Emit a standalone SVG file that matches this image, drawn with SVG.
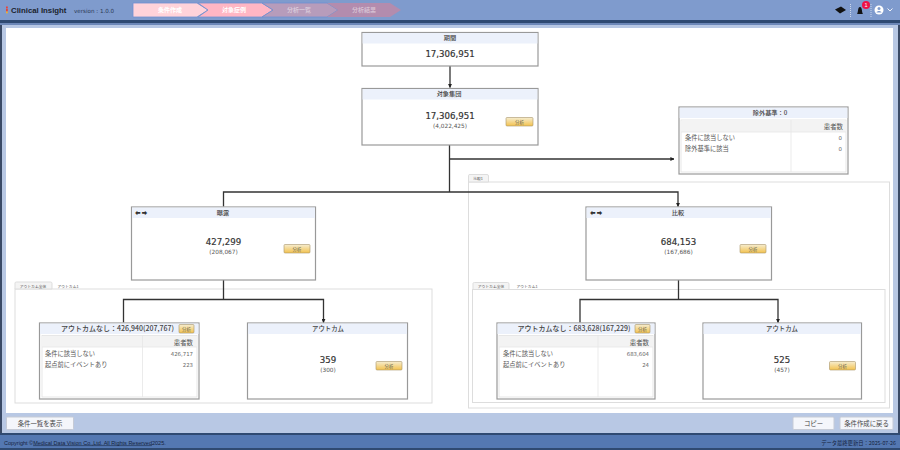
<svg xmlns="http://www.w3.org/2000/svg" width="900" height="450" viewBox="0 0 900 450">
<style>
text{font-family:"Noto Sans CJK JP","Noto Sans",sans-serif;fill:#444}
.num{font-family:"DejaVu Sans",sans-serif;font-size:8.6px;fill:#333;text-anchor:middle;stroke:#333;stroke-width:.2}
.sub{font-family:"DejaVu Sans",sans-serif;font-size:5.800px;fill:#555;text-anchor:middle}
.box{fill:#fff;stroke:#999;stroke-width:1.2}
.hd{fill:#ecf1fb}
.ttl{font-size:6.2px;fill:#444;text-anchor:middle;font-weight:500}
.ttl2{font-size:7px;fill:#444;text-anchor:middle;font-weight:500}
.ttl3{font-size:6.400px;fill:#444;text-anchor:middle;font-weight:500}
.cell{font-size:6.250px;fill:#555}
.val{font-family:"DejaVu Sans",sans-serif;font-size:5.400px;fill:#666;text-anchor:end}
.rh{font-size:6.400px;fill:#555;text-anchor:end}
.btn{fill:url(#gold);stroke:#a89468;stroke-width:.6}
.btxt{font-size:4.400px;fill:#665;text-anchor:middle}
.panel{fill:#fff;stroke:#ddd;stroke-width:1}
.tab{fill:#f4f4f4;stroke:#ddd;stroke-width:1}
.tabt{font-size:3.800px;fill:#555;text-anchor:middle}
.tbl{fill:#fff;stroke:#e2e2e2;stroke-width:.8}
.trh{fill:#f3f3f3}
.sep{stroke:#e6e6e6;stroke-width:.8}
.conn{fill:none;stroke:#333;stroke-width:1.3}
.fbtn{fill:#f4f6fb;stroke:#c6cbd6;stroke-width:1}
.ft{font-size:6.400px;fill:#444;text-anchor:middle}
.st{font-size:6px;fill:#fff;text-anchor:middle;font-weight:700}
.chev{stroke:#6f90d0;stroke-width:.8}
.arr{font-size:5.500px;fill:#333}
</style>
<defs>
<linearGradient id="gold" x1="0" y1="0" x2="0" y2="1"><stop offset="0" stop-color="#f6edd0"/><stop offset="1" stop-color="#f3c24e"/></linearGradient>
<marker id="ah" markerWidth="4" markerHeight="4" refX="3.600" refY="2" orient="auto" markerUnits="userSpaceOnUse"><path d="M0 0L4 2L0 4Z" fill="#222"/></marker>
</defs>

<rect width="900" height="450" fill="#b8c8e4"/>
<rect y="0" width="900" height="20" fill="#7f9bcd"/>
<rect y="20" width="900" height="3" fill="#2f4a72"/>
<rect y="23" width="900" height="2" fill="#6d88b8"/>
<rect y="25" width="2" height="408" fill="#3a4a66"/>
<rect x="898" y="25" width="2" height="408" fill="#3a4a66"/>
<rect x="6" y="28" width="887" height="385" fill="#fff"/>

<g id="header">
<rect x="6" y="6.500" width="1.800" height="2" fill="#e8433a"/><rect x="6" y="9" width="1.800" height="2.500" fill="#e8433a"/><rect x="6" y="11.500" width="1.800" height="1.800" fill="#f0b030"/>
<text x="11" y="13" font-size="7.800" font-weight="700" style="font-family:'Liberation Sans',sans-serif;fill:#1a1f2c">Clinical Insight</text>
<text x="74" y="12.500" font-size="5.600" style="font-family:'DejaVu Sans',sans-serif;fill:#2c3a55">version : 1.0.0</text>
<path class="chev" d="M133 3H197L208 10L197 17H133Z" fill="#ffd3da"/>
<path class="chev" d="M198 3H262L273 10L262 17H198L208 10Z" fill="#ffb6c4"/>
<path class="chev" d="M262 3H327L338 10L327 17H262L273 10Z" fill="#b79cbb"/>
<path d="M327 3H390L401 10L390 17H327L338 10Z" fill="#b38cae"/>
<text class="st" x="170" y="12">条件作成</text>
<text class="st" x="234" y="12">対象症例</text>
<text class="st" x="299" y="12" fill-opacity=".45">分析一覧</text>
<text class="st" x="364" y="12" fill-opacity=".45">分析結果</text>
<path d="M835 9.500L841 6.500L846 10L840 13.500Z" fill="#111"/>
<path d="M850.500 4V17M871 4V17" stroke="#dfe6f4" stroke-width=".8" stroke-dasharray="1 1"/>
<path d="M857 14C858.500 12 857.500 7 860 7C862.500 7 861.500 12 863 14Z" fill="#111"/>
<circle cx="866" cy="5" r="4" fill="#ee1148"/>
<text x="866" y="7" font-size="5.500" text-anchor="middle" style="fill:#fff;font-family:'Liberation Sans',sans-serif">1</text>
<circle cx="879" cy="10" r="4.500" fill="#fff"/><circle cx="879" cy="8.500" r="1.500" fill="#7f9bcd"/><path d="M876.500 12.500C877 10.500 881 10.500 881.500 12.500Z" fill="#7f9bcd"/>
<path d="M887.500 8.500L890 11L892.500 8.500" fill="none" stroke="#eef2fa" stroke-width="1"/>
</g>

<g id="panels">
<rect class="panel" x="468.500" y="182" width="421" height="226"/>
<path class="tab" d="M468.500 182V175.500Q468.500 174.500 470 174.500H487Q488.500 174.500 488.500 176V182Z"/>
<text class="tabt" x="478" y="180">比較1</text>
<rect class="panel" x="15" y="289" width="417" height="114"/>
<path class="tab" d="M15 289V283Q15 282 16.500 282H50.500Q52 282 52 283.500V289Z"/>
<text class="tabt" x="33" y="287.500">アウトカム全体</text>
<text class="tabt" x="68" y="287.500">アウトカム1</text>
<rect class="panel" x="472.500" y="289.500" width="412.500" height="113"/>
<path class="tab" d="M473 289.500V283.500Q473 282.500 474.500 282.500H507.500Q509 282.500 509 284V289.500Z"/>
<text class="tabt" x="491" y="287.500">アウトカム全体</text>
<text class="tabt" x="527" y="287.500">アウトカム1</text>
</g>

<g id="connectors">
<path class="conn" d="M450 66V87.500" marker-end="url(#ah)" stroke-width="1.500"/>
<path class="conn" d="M449.500 145V192"/>
<path class="conn" d="M449.500 159H674" marker-end="url(#ah)"/>
<path class="conn" d="M223.500 206.500V192H678V206.500" marker-end="url(#ah)" stroke-width="1.500"/>
<path class="conn" d="M223.500 280V299"/>
<path class="conn" d="M123.500 322.500V299.500H323.500V322.500" marker-end="url(#ah)"/>
<path class="conn" d="M678.500 280V300"/>
<path class="conn" d="M580 322.500V299.500H778V322.500" marker-end="url(#ah)"/>
</g>

<g id="n-period">
<rect class="box" x="362" y="32.500" width="176" height="33.500"/>
<rect class="hd" x="362.600" y="33" width="174.800" height="10.500"/>
<text class="ttl" x="450" y="39.800">期間</text>
<text class="num" x="450" y="57">17,306,951</text>
</g>
<g id="n-cohort">
<rect class="box" x="362" y="88.500" width="176" height="56.500"/>
<rect class="hd" x="362.600" y="89" width="174.800" height="10.500"/>
<text class="ttl" x="449" y="95.800">対象集団</text>
<text class="num" x="450" y="118.500">17,306,951</text>
<text class="sub" x="450" y="128">(4,022,425)</text>
<rect class="btn" x="506" y="117.500" width="27" height="8.500" rx="1"/>
<text class="btxt" x="519.500" y="123.500">分析</text>
</g>
<g id="n-exclusion">
<rect class="box" x="679" y="107" width="169" height="67"/>
<rect class="hd" x="679.600" y="107.600" width="167.800" height="10.400"/>
<text class="ttl" x="770" y="114.500">除外基準：0</text>
<rect class="tbl" x="681" y="120" width="165" height="52"/>
<rect class="trh" x="681.500" y="120.500" width="164" height="11.500"/>
<path class="sep" d="M791 120V172M681 132H846"/>
<text class="rh" x="843" y="129">患者数</text>
<text class="cell" x="685" y="139.500">条件に該当しない</text>
<text class="cell" x="685" y="150.500">除外基準に該当</text>
<text class="val" x="842" y="139.500">0</text>
<text class="val" x="842" y="150.500">0</text>
</g>
<g id="n-exposed">
<rect class="box" x="131.500" y="207" width="184" height="73"/>
<rect class="hd" x="132" y="207.500" width="183" height="10.500"/>
<text class="arr" x="135" y="214.500">⬅ ➡</text>
<text class="ttl" x="223" y="214.500">曝露</text>
<text class="num" x="223.500" y="245">427,299</text>
<text class="sub" x="223.500" y="254">(208,067)</text>
<rect class="btn" x="284" y="244.500" width="26" height="8.500" rx="1"/>
<text class="btxt" x="297" y="250.500">分析</text>
</g>
<g id="n-comparison">
<rect class="box" x="586" y="207" width="185.500" height="73"/>
<rect class="hd" x="586.500" y="207.500" width="184.500" height="10.500"/>
<text class="arr" x="590" y="214.500">⬅ ➡</text>
<text class="ttl" x="678" y="214.500">比較</text>
<text class="num" x="678.500" y="245">684,153</text>
<text class="sub" x="678.500" y="254">(167,686)</text>
<rect class="btn" x="740" y="244.500" width="26" height="8.500" rx="1"/>
<text class="btxt" x="753" y="250.500">分析</text>
</g>
<g id="n-no-outcome-a">
<rect class="box" x="39.500" y="323" width="159.500" height="76"/>
<rect class="hd" x="40" y="323.500" width="158.500" height="10.500"/>
<text class="ttl2" x="117.500" y="331">アウトカムなし：426,940(207,767)</text>
<rect class="btn" x="179" y="324.500" width="15" height="8.500" rx="1"/>
<text class="btxt" x="186.500" y="330.500">分析</text>
<rect class="tbl" x="42" y="335.500" width="155" height="61.500"/>
<rect class="trh" x="42.500" y="336" width="154" height="11"/>
<path class="sep" d="M142.500 335.500V397M42 347H197"/>
<text class="rh" x="193" y="344.500">患者数</text>
<text class="cell" x="45" y="356">条件に該当しない</text>
<text class="cell" x="45" y="367">起点前にイベントあり</text>
<text class="val" x="193" y="356">426,717</text>
<text class="val" x="193" y="367">223</text>
</g>
<g id="n-outcome-a">
<rect class="box" x="247.500" y="323" width="160" height="76"/>
<rect class="hd" x="248" y="323.500" width="159" height="10.500"/>
<text class="ttl3" x="328" y="331">アウトカム</text>
<text class="num" x="328" y="362.500">359</text>
<text class="sub" x="328" y="372">(300)</text>
<rect class="btn" x="376" y="361.500" width="26" height="8.500" rx="1"/>
<text class="btxt" x="389" y="367.500">分析</text>
</g>
<g id="n-no-outcome-b">
<rect class="box" x="497" y="323" width="158" height="76"/>
<rect class="hd" x="497.500" y="323.500" width="157" height="10.500"/>
<text class="ttl2" x="574" y="331">アウトカムなし：683,628(167,229)</text>
<rect class="btn" x="635" y="324.500" width="15" height="8.500" rx="1"/>
<text class="btxt" x="642.500" y="330.500">分析</text>
<rect class="tbl" x="499" y="335.500" width="154" height="61.500"/>
<rect class="trh" x="499.500" y="336" width="153" height="11"/>
<path class="sep" d="M598 335.500V397M499 347H653"/>
<text class="rh" x="649" y="344.500">患者数</text>
<text class="cell" x="503" y="356">条件に該当しない</text>
<text class="cell" x="503" y="367">起点前にイベントあり</text>
<text class="val" x="649" y="356">683,604</text>
<text class="val" x="649" y="367">24</text>
</g>
<g id="n-outcome-b">
<rect class="box" x="703" y="323" width="158.500" height="76"/>
<rect class="hd" x="703.500" y="323.500" width="157.500" height="10.500"/>
<text class="ttl3" x="782" y="331">アウトカム</text>
<text class="num" x="782" y="362.500">525</text>
<text class="sub" x="782" y="372">(457)</text>
<rect class="btn" x="829.500" y="361.500" width="26" height="8.500" rx="1"/>
<text class="btxt" x="842.500" y="367.500">分析</text>
</g>

<g id="footer">
<rect x="6.500" y="417" width="67" height="12.500" rx="1" class="fbtn"/>
<text class="ft" x="40" y="425.500">条件一覧を表示</text>
<rect x="793" y="417" width="41" height="12.500" rx="1" class="fbtn"/>
<text class="ft" x="813.500" y="425.500">コピー</text>
<rect x="840" y="417" width="53" height="12.500" rx="1" class="fbtn"/>
<text class="ft" x="866.500" y="425.500">条件作成に戻る</text>
<rect y="433" width="900" height="2" fill="#2f4a72"/>
<rect y="435" width="900" height="13" fill="#5478b2"/>
<rect y="448" width="900" height="2" fill="#2f4a72"/>
<text x="4" y="444.500" font-size="5.500" style="font-family:'Liberation Sans',sans-serif;fill:#15233d">Copyright ©<tspan text-decoration="underline">Medical Data Vision Co.,Ltd. All Rights Reserved</tspan>2025.</text>
<text x="896" y="444.500" font-size="5.300" text-anchor="end" style="fill:#15233d">データ最終更新日：2025-07-26</text>
</g>
</svg>
